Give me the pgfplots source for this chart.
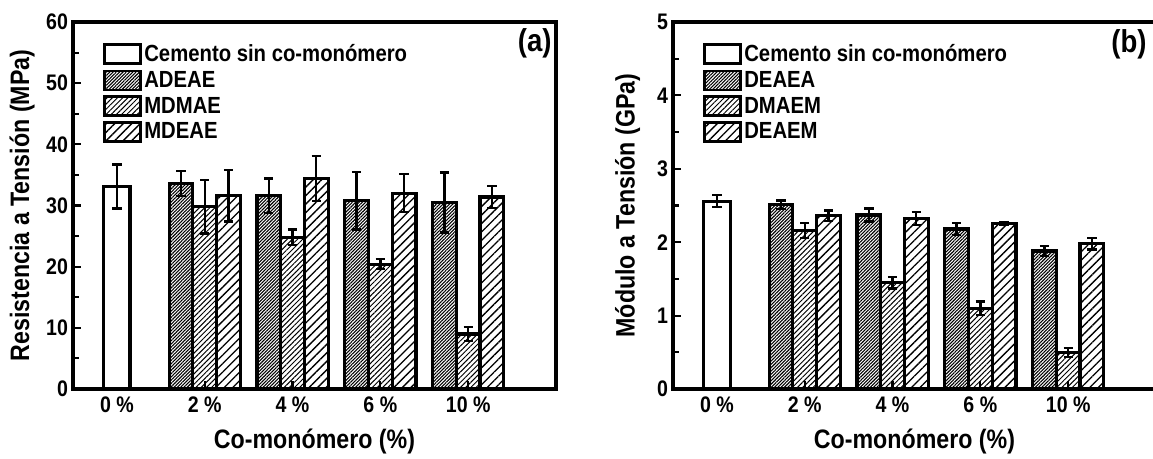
\documentclass[border=0pt]{standalone}
\usepackage{fontspec}
\setmainfont{Liberation Sans}[FakeStretch=0.87]
\usepackage{pgfplots}
\usepackage{pgfplotstable}
\pgfplotsset{compat=1.18}
\usetikzlibrary{patterns.meta}

% ---------- data: left panel (MPa) ----------
\pgfplotstableread{
x y e
0 33.1 3.6
}\ctrlA
\pgfplotstableread{
x y e
0.73 33.6 2.0
1.73 31.6 2.8
2.73 30.8 4.7
3.73 30.5 4.9
}\adeae
\pgfplotstableread{
x y e
1 29.8 4.4
2 24.8 1.3
3 20.4 0.8
4 9.0 1.1
}\mdmae
\pgfplotstableread{
x y e
1.27 31.6 4.2
2.27 34.4 3.7
3.27 32.0 3.1
4.27 31.4 1.8
}\mdeae
% ---------- data: right panel (GPa) ----------
\pgfplotstableread{
x y e
0 2.56 0.08
}\ctrlB
\pgfplotstableread{
x y e
0.73 2.51 0.06
1.73 2.37 0.09
2.73 2.18 0.08
3.73 1.88 0.07
}\deaea
\pgfplotstableread{
x y e
1 2.16 0.10
2 1.45 0.08
3 1.10 0.09
4 0.50 0.06
}\dmaem
\pgfplotstableread{
x y e
1.27 2.36 0.07
2.27 2.32 0.09
3.27 2.25 0.02
4.27 1.98 0.08
}\deaem

\pgfplotsset{
  panel/.style={
    scale only axis, width=289.8pt, height=220.2pt,
    anchor=south west,
    xmin=-0.5, xmax=5, ymin=0,
    axis line style={line width=1.9pt},
    xtick={0,1,2,3,4},
    xticklabels={0 \%,2 \%,4 \%,6 \%,10 \%},
    xtick pos=bottom, ytick pos=left, tick align=inside,
    minor y tick num=1,
    major tick length=5pt, minor tick length=3.5pt,
    every tick/.style={line width=1.3pt, black},
    ticklabel style={font=\bfseries\fontsize{13.5}{15}\selectfont},
    xticklabel style={yshift=-1pt},
    yticklabel style={xshift=0.5pt},
    /pgf/number format/assume math mode=true,
    label style={font=\bfseries\fontsize{16}{18}\selectfont},
    xlabel={Co-monómero (\%)},
    xlabel style={at={(axis description cs:0.5,-0.1444)}, anchor=center},
    legend style={at={(axis description cs:0.0621,0.9455)}, anchor=north west,
      draw=none, fill=none, inner sep=0pt, outer sep=0pt, row sep=1.3pt,
      font=\bfseries\fontsize{14}{16}\selectfont,
      nodes={inner sep=1.5pt}},
    legend cell align=left,
  },
  mybar/.style={ybar, bar width=0.27, bar shift=0pt, draw=black, line width=1.9pt,
    legend image code/.code={\draw[##1, line width=1.7pt] (0pt,-5.7pt) rectangle (21.6pt,5.7pt);},
    error bars/y dir=both, error bars/y explicit,
    error bars/error bar style={line width=1.4pt, black},
    error bars/error mark options={rotate=90, mark size=2.8pt, line width=1.4pt, black}},
  pA/.style={pattern={Lines[angle=45,distance=1.4pt,line width=0.65pt]}},
  pB/.style={pattern={Lines[angle=45,distance=2.2pt,line width=0.6pt]}},
  pC/.style={pattern={Lines[angle=45,distance=3.6pt,line width=0.8pt]}},
}

\begin{document}
\begin{tikzpicture}
% ---------------- panel (a) ----------------
\begin{axis}[panel, at={(43.8pt,42pt)},
  ymax=60, ytick={0,10,20,30,40,50,60},
  ylabel={Resistencia a Tensión (MPa)},
  ylabel style={at={(axis description cs:-0.1056,0.5)}, anchor=center},
]
\addplot[mybar, fill=white, bar width=0.3] table[x=x,y=y,y error=e] {\ctrlA};
\addlegendentry{Cemento sin co-monómero}
\addplot[mybar, pA] table[x=x,y=y,y error=e] {\adeae};
\addlegendentry{ADEAE}
\addplot[mybar, pB] table[x=x,y=y,y error=e] {\mdmae};
\addlegendentry{MDMAE}
\addplot[mybar, pC] table[x=x,y=y,y error=e] {\mdeae};
\addlegendentry{MDEAE}
\node[anchor=north east, inner sep=0pt, font=\bfseries\fontsize{19}{21}\selectfont]
  at (rel axis cs:1,1) [xshift=-2.4pt, yshift=-3.6pt] {(a)};
\end{axis}
% ---------------- panel (b) ----------------
\begin{axis}[panel, at={(403.8pt,42pt)},
  ymax=5, ytick={0,1,2,3,4,5},
  ylabel={Módulo a Tensión (GPa)},
  ylabel style={at={(axis description cs:-0.094,0.5)}, anchor=center},
]
\addplot[mybar, fill=white, bar width=0.3] table[x=x,y=y,y error=e] {\ctrlB};
\addlegendentry{Cemento sin co-monómero}
\addplot[mybar, pA] table[x=x,y=y,y error=e] {\deaea};
\addlegendentry{DEAEA}
\addplot[mybar, pB] table[x=x,y=y,y error=e] {\dmaem};
\addlegendentry{DMAEM}
\addplot[mybar, pC] table[x=x,y=y,y error=e] {\deaem};
\addlegendentry{DEAEM}
\node[anchor=north east, inner sep=0pt, font=\bfseries\fontsize{19}{21}\selectfont]
  at (rel axis cs:1,1) [xshift=-5.4pt, yshift=-4.2pt] {(b)};
\end{axis}
\pgfresetboundingbox
\useasboundingbox (0,0) rectangle (691.8pt,275.4pt);
\end{tikzpicture}
\end{document}
